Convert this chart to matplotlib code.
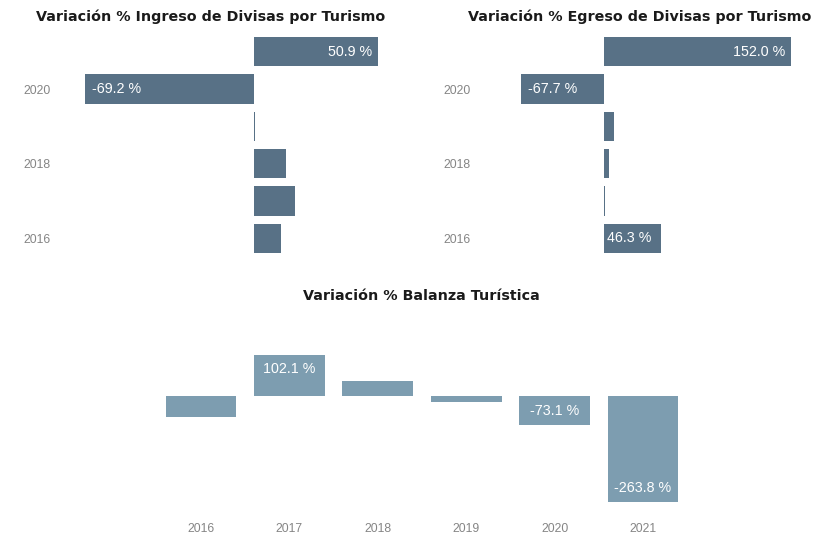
import matplotlib
matplotlib.use("Agg")
import matplotlib.pyplot as plt

# data
years = [2016, 2017, 2018, 2019, 2020, 2021]
ingreso = [11.1, 16.8, 13.1, 0.5, -69.2, 50.9]
egreso = [46.3, 0.5, 4.1, 8.1, -67.7, 152.0]
balanza = [-52.5, 102.1, 37.5, -15.0, -73.1, -263.8]
labeled_ingreso = [2020, 2021]
labeled_egreso = [2016, 2020, 2021]
labeled_balanza = [2017, 2020, 2021]
tick_years = [2016, 2018, 2020]

dark = "#587186"
light = "#7d9db0"
W, H = 825, 541
lab_size = 10.3

plt.rcParams["font.family"] = ["Liberation Sans", "DejaVu Sans"]
fig = plt.figure(figsize=(W / 100, H / 100), dpi=100)


def axes_px(x0, y0, x1, y1):
    return fig.add_axes([x0 / W, 1 - y1 / H, (x1 - x0) / W, (y1 - y0) / H])


def clean(ax):
    for s in ax.spines.values():
        s.set_visible(False)
    ax.tick_params(length=0, colors="#858585", labelsize=8.8)


def hbars(ax, vals, labeled, fmt_left=()):
    ax.barh(years, vals, height=0.78, color=dark)
    for y, v in zip(years, vals):
        if y not in labeled:
            continue
        if v < 0:
            ax.annotate("%.1f %%" % v, (v, y), xytext=(5, 0), textcoords="offset points",
                        ha="left", va="center", color="white", fontsize=lab_size)
        elif y in fmt_left:
            ax.annotate("%.1f %%" % v, (0, y), xytext=(2, 0), textcoords="offset points",
                        ha="left", va="center", color="white", fontsize=lab_size)
        else:
            ax.annotate("%.1f %%" % v, (v, y), xytext=(-4, 0), textcoords="offset points",
                        ha="right", va="center", color="white", fontsize=lab_size)
    ax.set_ylim(2015.5, 2021.5)
    ax.set_yticks(tick_years)
    ax.set_yticklabels([str(t) for t in tick_years])
    ax.set_xticks([])
    clean(ax)


# Ingreso
ax1 = axes_px(62, 33, 400, 257)
hbars(ax1, ingreso, labeled_ingreso)
ax1.set_xlim(-(254 - 62) / 2.436, (400 - 254) / 2.436)
ax1.tick_params(axis="y", pad=8)

# Egreso
ax2 = axes_px(482, 33, 815, 257)
hbars(ax2, egreso, labeled_egreso, fmt_left=(2016,))
ax2.set_xlim(-(604 - 482) / 1.23, (815 - 604) / 1.23)
ax2.tick_params(axis="y", pad=8)

# Balanza
ax3 = axes_px(150, 330, 690, 512)
ax3.bar(years, balanza, width=0.8, color=light)
for x, v in zip(years, balanza):
    if x not in labeled_balanza:
        continue
    if v > 0:
        ax3.annotate("%.1f %%" % v, (x, v), xytext=(0, -5), textcoords="offset points",
                     ha="center", va="top", color="white", fontsize=lab_size)
    else:
        ax3.annotate("%.1f %%" % v, (x, v), xytext=(0, 5), textcoords="offset points",
                     ha="center", va="bottom", color="white", fontsize=lab_size)
ax3.set_ylim(-(512 - 396) / 0.4, (396 - 330) / 0.4)
ax3.set_xlim(2016 - (201 - 150) / 88.4, 2021 + (690 - 643) / 88.4)
ax3.set_xticks(years)
ax3.set_xticklabels([str(y) for y in years])
ax3.set_yticks([])
clean(ax3)
ax3.tick_params(axis="x", pad=8)

title_kw = dict(ha="center", va="center", fontsize=10.3, fontweight="bold",
                color="#1a1a1a", family=["DejaVu Sans"])
fig.text(211 / W, 1 - 17 / H, "Variación % Ingreso de Divisas por Turismo", **title_kw)
fig.text(640 / W, 1 - 17 / H, "Variación % Egreso de Divisas por Turismo", **title_kw)
fig.text(421 / W, 1 - 296 / H, "Variación % Balanza Turística", **title_kw)

fig.savefig("out.png", dpi=100, facecolor="white")
